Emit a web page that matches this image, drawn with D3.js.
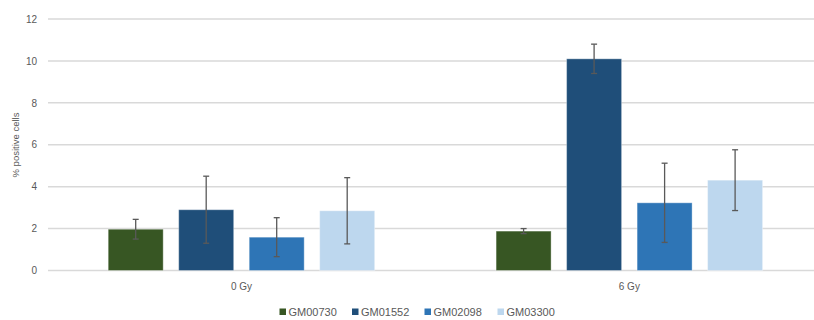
<!DOCTYPE html>
<html>
<head>
<meta charset="utf-8">
<script src="https://cdn.jsdelivr.net/npm/d3@7"></script>
<style>
  html, body { margin: 0; padding: 0; background: #fff; }
  svg { display: block; }
  text { font-family: "Liberation Sans", Arial, sans-serif; fill: #595959; }
</style>
</head>
<body>
<svg id="chart" width="814" height="320"></svg>
<script>
const categories = ["0 Gy", "6 Gy"];
const seriesNames = ["GM00730", "GM01552", "GM02098", "GM03300"];
const seriesColors = ["#375623", "#1f4e79", "#2e75b6", "#bdd7ee"];
const GM00730 = [1.97, 1.88];
const GM01552 = [2.9, 10.1];
const GM02098 = [1.59, 3.23];
const GM03300 = [2.85, 4.31];
const errGM00730 = [0.47, 0.12];
const errGM01552 = [1.6, 0.7];
const errGM02098 = [0.93, 1.89];
const errGM03300 = [1.58, 1.45];
const yTicks = [0, 2, 4, 6, 8, 10, 12];
const yTitle = "% positive cells";

const values = [GM00730, GM01552, GM02098, GM03300];
const errors = [errGM00730, errGM01552, errGM02098, errGM03300];

const svg = d3.select("#chart");

const y = d3.scaleLinear().domain([0, 12]).range([270.5, 19]);
const x0 = d3.scaleBand().domain(categories).range([47.3, 823.5])
  .paddingInner(0.273).paddingOuter(0.137);
const x1 = d3.scaleBand().domain(seriesNames).range([0, x0.bandwidth()])
  .paddingInner(0.22).paddingOuter(0.11);

// gridlines
svg.append("g").selectAll("line").data(yTicks).join("line")
  .attr("x1", 48).attr("x2", 814)
  .attr("y1", d => y(d)).attr("y2", d => y(d))
  .attr("stroke", "#d9d9d9").attr("stroke-width", 1.5);

// y tick labels
const yAxis = d3.axisLeft(y).tickValues(yTicks).tickSize(0).tickPadding(0);
const ya = svg.append("g").attr("transform", "translate(37,0)").call(yAxis);
ya.select(".domain").remove();
ya.selectAll("text").attr("font-size", 10).attr("fill", "#595959")
  .style("font-family", "'Liberation Sans', Arial, sans-serif");

// y title
svg.append("text")
  .attr("transform", "translate(19,145) rotate(-90)")
  .attr("text-anchor", "middle")
  .attr("font-size", 9.5)
  .text(yTitle);

// bars
const data = [];
categories.forEach((c, i) => {
  seriesNames.forEach((s, j) => {
    data.push({ cat: c, ser: s, v: values[j][i], e: errors[j][i], color: seriesColors[j] });
  });
});

const bars = svg.append("g");
bars.selectAll("rect").data(data).join("rect")
  .attr("x", d => x0(d.cat) + x1(d.ser))
  .attr("y", d => y(d.v))
  .attr("width", x1.bandwidth())
  .attr("height", d => y(0) - y(d.v))
  .attr("fill", d => d.color)
  .attr("stroke", "#ffffff").attr("stroke-opacity", 0.35).attr("stroke-width", 1);

// error bars
const eb = svg.append("g").attr("stroke", "#595959").attr("stroke-width", 1.3);
data.forEach(d => {
  const cx = x0(d.cat) + x1(d.ser) + x1.bandwidth() / 2;
  eb.append("line").attr("x1", cx).attr("x2", cx)
    .attr("y1", y(d.v + d.e)).attr("y2", y(d.v - d.e));
  [d.v + d.e, d.v - d.e].forEach(v => {
    eb.append("line").attr("x1", cx - 3).attr("x2", cx + 3)
      .attr("y1", y(v)).attr("y2", y(v));
  });
});

// x labels
svg.append("g").selectAll("text").data(categories).join("text")
  .attr("x", d => x0(d) + x0.bandwidth() / 2)
  .attr("y", 290)
  .attr("text-anchor", "middle")
  .attr("font-size", 10)
  .text(d => d);

// legend
const legendX = [279.5, 352, 424.5, 497.5];
const lg = svg.append("g");
seriesNames.forEach((s, j) => {
  lg.append("rect").attr("x", legendX[j]).attr("y", 308.5).attr("width", 6.5).attr("height", 6.5)
    .attr("fill", seriesColors[j]);
  lg.append("text").attr("x", legendX[j] + 9).attr("y", 315.5)
    .attr("font-size", 11).text(s);
});
</script>
</body>
</html>
